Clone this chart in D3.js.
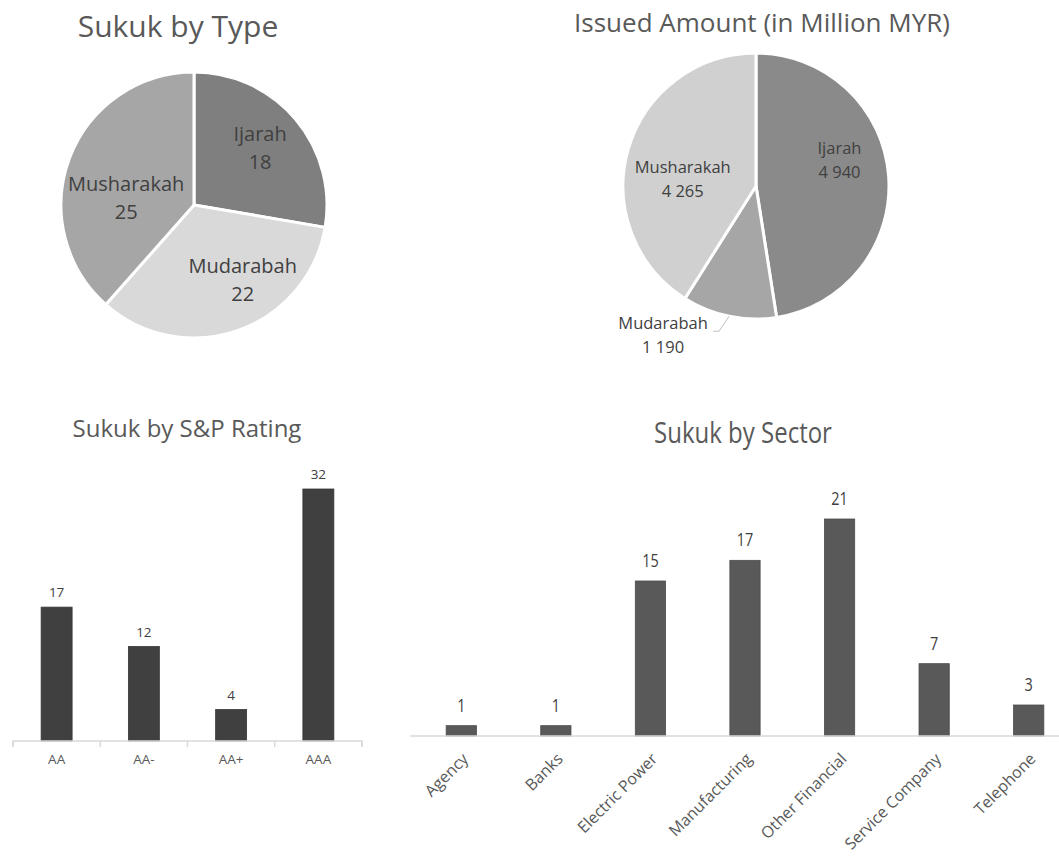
<!DOCTYPE html>
<html>
<head>
<meta charset="utf-8">
<script src="https://cdn.jsdelivr.net/npm/d3@7"></script>
<style>
  html, body { margin: 0; padding: 0; background: #ffffff; }
  svg { display: block; }
  text { font-family: "Open Sans", "Noto Sans", sans-serif; }
</style>
</head>
<body>
<svg id="chart" width="1059" height="862"></svg>
<script>
// ---- data ----
const typeNames = ["Ijarah", "Mudarabah", "Musharakah"];
const typeCounts = [18, 22, 25];

const amountNames = ["Ijarah", "Mudarabah", "Musharakah"];
const amountValues = [4940, 1190, 4265];

const ratingNames = ["AA", "AA-", "AA+", "AAA"];
const ratingCounts = [17, 12, 4, 32];

const sectorNames = ["Agency", "Banks", "Electric Power", "Manufacturing", "Other Financial", "Service Company", "Telephone"];
const sectorCounts = [1, 1, 15, 17, 21, 7, 3];

// ---- drawing ----
const svg = d3.select("#chart");
const fmtSpace = v => d3.format(",")(v).replace(/,/g, " ");

// horizontally squeeze a text element around its own anchor x (narrow face look)
function condense(sel, f) {
  sel.each(function () {
    const t = d3.select(this);
    const x = +t.attr("x") || 0;
    t.attr("transform", `translate(${x},0) scale(${f},1) translate(${-x},0)`);
  });
}

function pieChart(opts) {
  const g = svg.append("g").attr("transform", `translate(${opts.cx},${opts.cy})`);
  const pie = d3.pie().sort(null).value(d => d.value);
  const arcs = pie(opts.names.map((n, i) => ({ name: n, value: opts.values[i] })));
  const arc = d3.arc().innerRadius(0).outerRadius(opts.r);
  const color = d3.scaleOrdinal().domain(opts.names).range(opts.colors);

  g.selectAll("path.slice").data(arcs).join("path")
    .attr("class", "slice")
    .attr("d", arc)
    .attr("fill", d => color(d.data.name))
    .attr("stroke", "#ffffff")
    .attr("stroke-width", 3)
    .attr("stroke-linejoin", "round");

  const labelArc = d3.arc().innerRadius(opts.r * opts.labelFrac).outerRadius(opts.r * opts.labelFrac);
  const edgeArc = d3.arc().innerRadius(opts.r).outerRadius(opts.r);

  arcs.forEach((d, i) => {
    const lay = opts.labelLayout[i];
    let x, y;
    if (lay.outside) {
      const [ex, ey] = edgeArc.centroid(d);
      const bx = ex + lay.elbow[0], by = ey + lay.elbow[1];
      const tx = bx + lay.tail;
      g.append("polyline")
        .attr("points", `${ex},${ey} ${bx},${by} ${tx},${by}`)
        .attr("fill", "none").attr("stroke", "#bfbfbf").attr("stroke-width", 1);
      x = tx + lay.dx; y = by + lay.dy;
    } else {
      const c = labelArc.centroid(d);
      x = c[0] + lay.dx; y = c[1] + lay.dy;
    }
    const t = g.append("text")
      .attr("text-anchor", "middle")
      .attr("fill", opts.labelColor)
      .attr("font-size", opts.labelSize);
    t.append("tspan").attr("x", x).attr("y", y).text(d.data.name);
    t.append("tspan").attr("x", x).attr("y", y + opts.labelLine).text(opts.fmt(d.data.value));
  });

  svg.append("text")
    .attr("x", opts.titleX).attr("y", opts.titleY)
    .attr("text-anchor", "middle")
    .attr("fill", "#595959")
    .attr("font-size", opts.titleSize)
    .text(opts.title);
}

pieChart({
  title: "Sukuk by Type", titleX: 178, titleY: 37, titleSize: 30,
  names: typeNames, values: typeCounts,
  colors: ["#7f7f7f", "#d9d9d9", "#a6a6a6"],
  cx: 194, cy: 205, r: 133, labelFrac: 0.65,
  labelSize: 20, labelLine: 28, labelColor: "#404040",
  labelLayout: [{ dx: 0, dy: -8 }, { dx: 20, dy: -14 }, { dx: 13, dy: 17 }],
  fmt: d => String(d)
});

pieChart({
  title: "Issued Amount (in Million MYR)", titleX: 762, titleY: 32, titleSize: 26,
  names: amountNames, values: amountValues,
  colors: ["#8a8a8a", "#a6a6a6", "#d0d0d0"],
  cx: 756, cy: 186, r: 133, labelFrac: 0.66,
  labelSize: 16.5, labelLine: 24, labelColor: "#404040",
  labelLayout: [{ dx: -4, dy: -25 }, { outside: true, elbow: [-10, 15], tail: -6, dx: -50, dy: -2 }, { dx: 11, dy: 11 }],
  fmt: fmtSpace
});

function barChart(opts) {
  const x = d3.scaleBand().domain(opts.names).range(opts.xRange)
    .paddingInner(opts.pad).paddingOuter(opts.pad / 2);
  const y = d3.scaleLinear().domain([0, opts.maxVal]).range([opts.baseY, opts.topY]);
  const g = svg.append("g");
  const data = opts.names.map((n, i) => ({ name: n, value: opts.values[i] }));

  g.selectAll("rect").data(data).join("rect")
    .attr("x", d => x(d.name))
    .attr("y", d => y(d.value))
    .attr("width", x.bandwidth())
    .attr("height", d => y(0) - y(d.value))
    .attr("fill", opts.color)
    .attr("stroke", d3.color(opts.color).darker(0.4))
    .attr("stroke-width", 0.8);

  const vals = g.selectAll("text.val").data(data).join("text")
    .attr("class", "val")
    .attr("x", d => x(d.name) + x.bandwidth() / 2)
    .attr("y", d => y(d.value) - opts.valGap)
    .attr("text-anchor", "middle")
    .attr("fill", "#404040")
    .attr("font-size", opts.valSize)
    .text(d => d.value);
  if (opts.condense) condense(vals, opts.condense);

  const axis = d3.axisBottom(x).tickSize(0).tickPadding(opts.tickPad);
  const ax = svg.append("g").attr("transform", `translate(0,${opts.baseY})`).call(axis);
  ax.select(".domain").attr("stroke", "#d9d9d9").attr("stroke-width", 1.5)
    .attr("d", `M${opts.axisX[0]},${opts.tickSize}V0H${opts.axisX[1]}V${opts.tickSize}`);
  ax.selectAll(".tick line").remove();
  if (opts.tickSize > 0) {
    // tick marks sit on the band boundaries
    const edges = opts.names.map(n => x(n) - x.step() * x.paddingInner() / 2).concat([opts.axisX[1]]);
    ax.selectAll("line.edge").data(edges).join("line")
      .attr("class", "edge")
      .attr("x1", d => d).attr("x2", d => d)
      .attr("y1", 0).attr("y2", opts.tickSize)
      .attr("stroke", "#d9d9d9").attr("stroke-width", 1.5);
  }
  ax.selectAll(".tick text")
    .attr("fill", "#595959")
    .attr("font-size", opts.catSize)
    .attr("font-family", '"Open Sans", sans-serif');
  if (opts.rotate) {
    ax.selectAll(".tick text")
      .attr("text-anchor", "end")
      .attr("dy", "0.35em")
      .attr("transform", `translate(${opts.rotShift[0]},${opts.rotShift[1]}) rotate(-45)`)
      .attr("y", 0).attr("x", 0);
  }

  const title = svg.append("text")
    .attr("x", opts.titleX).attr("y", opts.titleY)
    .attr("text-anchor", "middle")
    .attr("fill", "#595959")
    .attr("font-size", opts.titleSize)
    .text(opts.title);
  if (opts.condense) condense(title, opts.condense);
}

barChart({
  title: "Sukuk by S&P Rating", titleX: 187, titleY: 437, titleSize: 24,
  names: ratingNames, values: ratingCounts, maxVal: 32,
  xRange: [13, 362], pad: 0.645, axisX: [13, 362],
  baseY: 741, topY: 489, color: "#404040",
  valGap: 10, valSize: 13.5, catSize: 13.5, tickSize: 6, tickPad: 13
});

barChart({
  title: "Sukuk by Sector", titleX: 743, titleY: 443, titleSize: 30,
  names: sectorNames, values: sectorCounts, maxVal: 21,
  xRange: [414, 1076], pad: 0.68, axisX: [410, 1076],
  baseY: 736, topY: 519, color: "#595959",
  valGap: 14, valSize: 18, condense: 0.8, catSize: 16, tickSize: 0, tickPad: 0,
  rotate: true, rotShift: [4, 20]
});
</script>
</body>
</html>
